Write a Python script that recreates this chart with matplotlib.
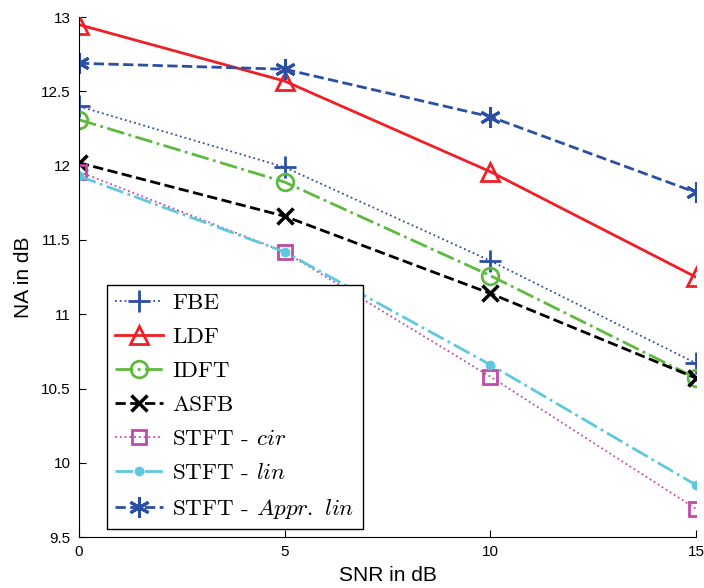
import matplotlib
matplotlib.use("Agg")
import matplotlib.pyplot as plt

plt.rcParams['font.family'] = ['Liberation Sans', 'DejaVu Sans']
plt.rcParams['mathtext.fontset'] = 'cm'
plt.rcParams['axes.formatter.use_mathtext'] = True

# SNR in dB
snr = [0, 5, 10, 15]

# NA in dB per method
fbe = [12.40, 11.99, 11.36, 10.67]
ldf = [12.95, 12.57, 11.96, 11.25]
idft = [12.31, 11.89, 11.26, 10.57]
asfb = [12.02, 11.66, 11.14, 10.57]
stft_cir = [11.96, 11.42, 10.58, 9.69]
stft_lin = [11.93, 11.42, 10.66, 9.85]
stft_appr = [12.69, 12.65, 12.33, 11.82]

labels = ['FBE', 'LDF', 'IDFT', 'ASFB',
          'STFT - $\\mathit{cir}$', 'STFT - $\\mathit{lin}$',
          'STFT - $\\mathit{Appr.\\ lin}$']

blue = '#2b4fa5'
red = '#ee1f26'
green = '#5dba3f'
magenta = '#bf4aa7'
cyan = '#5ec9de'

fig = plt.figure(figsize=(7.04, 5.88), dpi=100)
ax = fig.add_axes([0.1122, 0.0867, 0.8765, 0.884])

ax.plot(snr, fbe, color=blue, linestyle=':', linewidth=1.3, marker='+',
        markersize=16, markeredgewidth=2, label=labels[0])
ax.plot(snr, ldf, color=red, linestyle='-', linewidth=2, marker='^',
        markersize=13, markeredgewidth=2, markerfacecolor='none', label=labels[1])
ax.plot(snr, idft, color=green, linestyle='-.', linewidth=2, marker='o',
        markersize=12, markeredgewidth=2, markerfacecolor='none', label=labels[2])
ax.plot(snr, asfb, color='black', linestyle='--', linewidth=2, marker='x',
        markersize=11, markeredgewidth=2.5, label=labels[3])
ax.plot(snr, stft_cir, color=magenta, linestyle=':', linewidth=1.3, marker='s',
        markersize=10, markeredgewidth=2, markerfacecolor='none', label=labels[4])
ax.plot(snr, stft_lin, color=cyan, linestyle='-.', linewidth=2, marker='o',
        markersize=7, markeredgewidth=0, label=labels[5])
ax.plot(snr, stft_appr, color=blue, linestyle='--', linewidth=2, marker=(6, 2, 0),
        markersize=15, markeredgewidth=2.2, label=labels[6])

ax.set_xlim(0, 15)
ax.set_ylim(9.5, 13)
ax.set_xticks([0, 5, 10, 15])
ax.set_xticklabels(['0', '5', '10', '15'])
ax.set_yticks([9.5, 10, 10.5, 11, 11.5, 12, 12.5, 13])
ax.set_yticklabels(['9.5', '10', '10.5', '11', '11.5', '12', '12.5', '13'])
ax.tick_params(direction='in', length=5, labelsize=11, pad=6)
ax.spines['top'].set_visible(False)
ax.spines['right'].set_visible(False)

ax.set_xlabel('SNR in dB', fontsize=15, labelpad=5)
ax.set_ylabel('NA in dB', fontsize=15, labelpad=6)

leg = ax.legend(loc='lower left', bbox_to_anchor=(0.045, 0.015),
                prop={'family': 'cmr10', 'size': 16.6},
                fancybox=False, edgecolor='black', framealpha=1,
                handlelength=2.1, handletextpad=0.4, labelspacing=0.6,
                borderpad=0.35, borderaxespad=0)
leg.get_frame().set_linewidth(1)

fig.savefig('out.png', dpi=100)
